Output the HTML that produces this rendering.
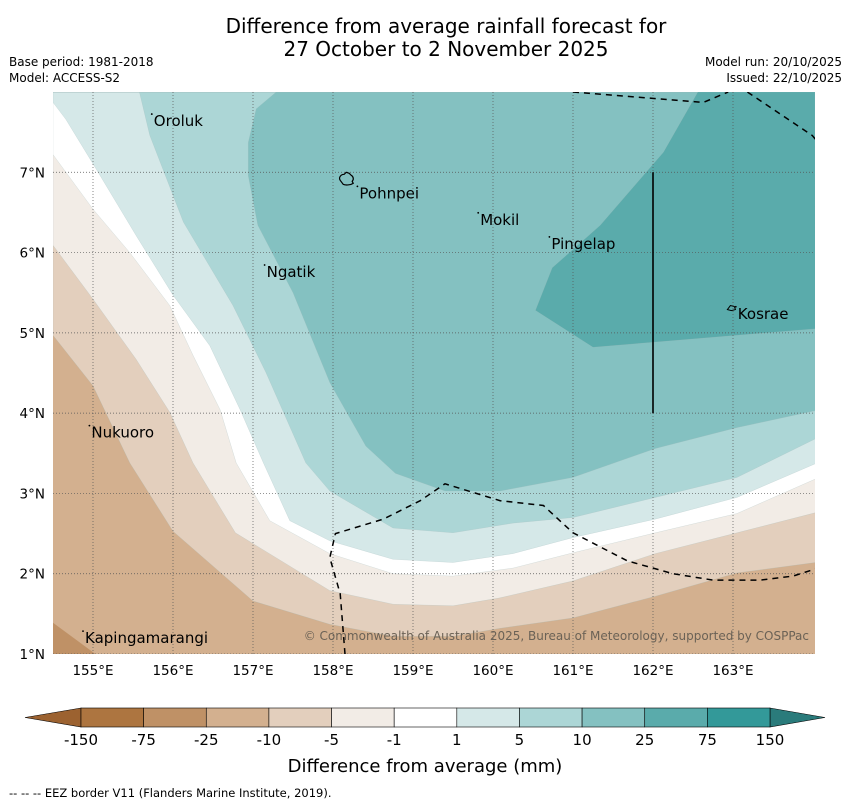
<!DOCTYPE html>
<html><head><meta charset="utf-8">
<style>
html,body{margin:0;padding:0;background:#fff;}
body{width:850px;height:804px;overflow:hidden;font-family:"Liberation Sans","DejaVu Sans",sans-serif;}
svg text{font-family:"DejaVu Sans","Liberation Sans",sans-serif;}
</style></head>
<body>
<svg id="chart" width="850" height="804" viewBox="0 0 850 804" xmlns="http://www.w3.org/2000/svg">
<text x="446" y="33" text-anchor="middle" font-size="20" fill="#000">Difference from average rainfall forecast for</text>
<text x="446" y="56" text-anchor="middle" font-size="20" fill="#000">27 October to 2 November 2025</text>
<text x="9" y="66" font-size="12">Base period: 1981-2018</text>
<text x="9" y="82" font-size="12">Model: ACCESS-S2</text>
<text x="842" y="66" font-size="12" text-anchor="end">Model run: 20/10/2025</text>
<text x="842" y="82" font-size="12" text-anchor="end">Issued: 22/10/2025</text>
<defs><clipPath id="mapclip"><rect x="53" y="92" width="762" height="562"/></clipPath></defs>
<g id="map" clip-path="url(#mapclip)"></g>
<g id="axes"></g>
<g id="cbar"></g>
<text x="425" y="772" text-anchor="middle" font-size="18">Difference from average (mm)</text>
<text x="9" y="797" font-size="11.5">--  --  -- EEZ border V11 (Flanders Marine Institute, 2019).</text>
</svg>
<script>
// ---- data ----
const lonTicks = [155,156,157,158,159,160,161,162,163];
const latTicks = [1,2,3,4,5,6,7];
const cbarLevels = ["-150","-75","-25","-10","-5","-1","1","5","10","25","75","150"];
const cbarColors = ["#ad7540","#bf9166","#d3b08f","#e3cfbd","#f2ece6","#ffffff","#d5e8e8","#acd6d6","#84c1c1","#5aabab","#339999"];
const contourM10Lon = [154.5,155.0,155.46,156.0,157.0,157.96,158.75,159.5,160.09,161.0,162.03,163.05,164.03];
const contourM10Lat = [4.97,4.34,3.38,2.53,1.66,1.37,1.22,1.22,1.32,1.45,1.72,2.01,2.14];
const contourM5Lon = [154.5,155.0,155.54,155.96,156.25,156.78,157.96,158.75,159.5,160.09,161.0,162.03,163.05,164.03];
const contourM5Lat = [6.09,5.42,4.67,4.01,3.38,2.51,1.79,1.62,1.60,1.70,1.91,2.25,2.51,2.76];
const contourM1Lon = [154.5,155.0,155.46,155.96,156.25,156.59,156.79,157.21,157.96,158.75,159.5,160.25,161.0,162.03,163.05,164.03];
const contourM1Lat = [7.22,6.54,6.00,5.34,4.72,4.04,3.38,2.66,2.25,2.00,1.97,2.07,2.26,2.51,2.75,3.18];
const contourP1Lon = [154.5,154.66,155.04,155.54,156.0,156.46,156.84,157.13,157.46,157.96,158.75,159.5,160.25,161.0,162.03,163.05,164.03];
const contourP1Lat = [7.87,7.66,7.04,6.21,5.47,4.84,4.04,3.38,2.66,2.41,2.18,2.14,2.25,2.45,2.68,2.95,3.37];
const contourP5Lon = [155.58,155.71,156.13,156.75,157.16,157.66,157.96,158.75,159.5,160.25,161.0,162.03,163.05,164.03];
const contourP5Lat = [8.0,7.46,6.38,5.34,4.51,3.38,3.03,2.57,2.51,2.63,2.70,2.95,3.20,3.68];
const contourP10Lon = [157.29,157.04,156.94,156.94,157.06,157.5,157.96,158.41,158.78,159.4,160.09,161.0,162.03,163.05,164.03];
const contourP10Lat = [8.0,7.79,7.37,6.96,6.34,5.50,4.38,3.59,3.25,3.03,3.03,3.20,3.56,3.82,4.03];
const contourP25Lon = [162.56,162.13,161.34,160.74,160.53,161.25,164.03];
const contourP25Lat = [8.0,7.25,6.34,5.81,5.28,4.82,5.05];
const patchM25Lon = [154.5,155.03,154.5];
const patchM25Lat = [1.39,1.0,1.0];
const eezALon = [158.15,158.09,157.96,158.03,158.13,158.63,159.09,159.4,160.09,160.63,161.0,161.68,162.25,162.75,163.34,163.75,164.03];
const eezALat = [1.0,1.75,2.20,2.50,2.53,2.68,2.91,3.12,2.91,2.85,2.51,2.16,2.0,1.92,1.92,1.97,2.06];
const eezBLon = [161.0,162.63,162.94];
const eezBLat = [8.0,7.87,8.0];
const eezCLon = [163.18,163.99,164.3];
const eezCLat = [8.0,7.46,7.1];
const boundaryLon = [162.0,162.0];
const boundaryLat = [7.0,4.0];
const placeNames = ["Oroluk","Pohnpei","Mokil","Pingelap","Ngatik","Kosrae","Nukuoro","Kapingamarangi"];
const placeLon = [155.76,158.33,159.84,160.73,157.17,163.06,154.98,154.9];
const placeLat = [7.7,6.8,6.47,6.17,5.82,5.3,3.82,1.26];

// ---- axes ----
const X0=53, X1=815, Y0=92, Y1=654;
const LON0=154.5, LON1=164.025, LAT0=1.0, LAT1=8.0;
const xs = lon => X0 + (lon-LON0)/(LON1-LON0)*(X1-X0);
const ys = lat => Y1 - (lat-LAT0)/(LAT1-LAT0)*(Y1-Y0);
const NS="http://www.w3.org/2000/svg";
function mk(tag, parent){const e=document.createElementNS(NS,tag);parent.appendChild(e);return e;}
function pts(lons,lats){return lons.map((l,i)=>xs(l).toFixed(1)+","+ys(lats[i]).toFixed(1)).join(" ");}

const map=document.getElementById('map');
const bg=mk('rect',map);
bg.setAttribute('x',X0);bg.setAttribute('y',Y0);bg.setAttribute('width',X1-X0);bg.setAttribute('height',Y1-Y0);bg.setAttribute('fill',cbarColors[2]);



const bands=[[contourM10Lon,contourM10Lat,cbarColors[3],'band-minus10-to-minus5'],
 [contourM5Lon,contourM5Lat,cbarColors[4],'band-minus5-to-minus1'],
 [contourM1Lon,contourM1Lat,cbarColors[5],'band-minus1-to-1'],
 [contourP1Lon,contourP1Lat,cbarColors[6],'band-1-to-5'],
 [contourP5Lon,contourP5Lat,cbarColors[7],'band-5-to-10'],
 [contourP10Lon,contourP10Lat,cbarColors[8],'band-10-to-25'],
 [contourP25Lon,contourP25Lat,cbarColors[9],'band-25-to-75']];
bands.forEach(b=>{
  const lons=b[0].concat([LON1,LON0]), lats=b[1].concat([LAT1,LAT1]);
  const p=mk('polygon',map);
  p.setAttribute('points',pts(lons,lats));
  p.setAttribute('fill',b[2]);p.setAttribute('stroke','#9fb8b8');p.setAttribute('stroke-width','0.4');p.setAttribute('stroke-opacity','0.5');
  
  
});
const pm=mk('polygon',map);
pm.setAttribute('points',pts(patchM25Lon,patchM25Lat));pm.setAttribute('fill',cbarColors[1]);



// grid
lonTicks.forEach(l=>{const g=mk('line',map);g.setAttribute('x1',xs(l));g.setAttribute('x2',xs(l));g.setAttribute('y1',Y0);g.setAttribute('y2',Y1);
 g.setAttribute('stroke','#555');g.setAttribute('stroke-width','0.7');g.setAttribute('stroke-dasharray','1 2');
 
 });
latTicks.forEach(l=>{const g=mk('line',map);g.setAttribute('y1',ys(l));g.setAttribute('y2',ys(l));g.setAttribute('x1',X0);g.setAttribute('x2',X1);
 g.setAttribute('stroke','#555');g.setAttribute('stroke-width','0.7');g.setAttribute('stroke-dasharray','1 2');
 
 });

// EEZ
[[eezALon,eezALat],[eezBLon,eezBLat],[eezCLon,eezCLat]].forEach(e=>{
 const l=mk('polyline',map);l.setAttribute('points',pts(e[0],e[1]));l.setAttribute('fill','none');l.setAttribute('stroke','#000');
 l.setAttribute('stroke-width','1.5');l.setAttribute('stroke-dasharray','6 5');
 
 });
const bl=mk('polyline',map);bl.setAttribute('points',pts(boundaryLon,boundaryLat));bl.setAttribute('stroke','#000');bl.setAttribute('stroke-width','1.6');bl.setAttribute('fill','none');



// island outlines
const pohn=mk('path',map);
pohn.setAttribute('d','M'+(xs(158.09))+' '+(ys(6.9))+' c-2 -3 1 -6 4 -6 l2 -2 l3 1 l2 2 c2 1 3 4 1 6 l1 2 c-3 2 -8 2 -10 1 z');
pohn.setAttribute('fill','none');pohn.setAttribute('stroke','#000');pohn.setAttribute('stroke-width','1.2');


const kos=mk('path',map);
kos.setAttribute('d','M'+(xs(162.93))+' '+(ys(5.29))+' l3 -4 l4 1 l1 3 l-4 1 z');
kos.setAttribute('fill','none');kos.setAttribute('stroke','#000');kos.setAttribute('stroke-width','1');



// place labels
placeNames.forEach((n,i)=>{
 const d=mk('circle',map);d.setAttribute('cx',xs(placeLon[i])-2);d.setAttribute('cy',ys(placeLat[i])-2);d.setAttribute('r','0.9');d.setAttribute('fill','#000');
 
 
 const t=mk('text',map);t.setAttribute('x',xs(placeLon[i]));t.setAttribute('y',ys(placeLat[i])+10);t.setAttribute('font-size','15');t.textContent=n;
 
 
});
const cp=mk('text',map);cp.setAttribute('x',809);cp.setAttribute('y',640);cp.setAttribute('text-anchor','end');cp.setAttribute('font-size','12');cp.setAttribute('fill','#6b6256');
cp.textContent='© Commonwealth of Australia 2025, Bureau of Meteorology, supported by COSPPac';



// axis labels
const axes=document.getElementById('axes');
lonTicks.forEach(l=>{const t=mk('text',axes);t.setAttribute('x',xs(l));t.setAttribute('y',675);t.setAttribute('text-anchor','middle');t.setAttribute('font-size','13.5');
 t.textContent=l+'°E';
 
 });
latTicks.forEach(l=>{const t=mk('text',axes);t.setAttribute('x',45);t.setAttribute('y',ys(l)+5);t.setAttribute('text-anchor','end');t.setAttribute('font-size','13.5');
 t.textContent=l+'°N';
 
 });

// colorbar
const cb=document.getElementById('cbar');
const CB0=81, CB1=770, CBY=708, CBH=19, w=(CB1-CB0)/cbarColors.length;
const lt=mk('polygon',cb);lt.setAttribute('points',`${CB0},${CBY} 25,${CBY+CBH/2} ${CB0},${CBY+CBH}`);lt.setAttribute('fill','#9c6230');lt.setAttribute('stroke','#000');lt.setAttribute('stroke-width','0.6');


const rt=mk('polygon',cb);rt.setAttribute('points',`${CB1},${CBY} 825,${CBY+CBH/2} ${CB1},${CBY+CBH}`);rt.setAttribute('fill','#2a7b7b');rt.setAttribute('stroke','#000');rt.setAttribute('stroke-width','0.6');


cbarColors.forEach((c,i)=>{const r=mk('rect',cb);r.setAttribute('x',CB0+i*w);r.setAttribute('y',CBY);r.setAttribute('width',w);r.setAttribute('height',CBH);
 r.setAttribute('fill',c);r.setAttribute('stroke','#000');r.setAttribute('stroke-width','0.6');
 
 });
cbarLevels.forEach((v,i)=>{const t=mk('text',cb);t.setAttribute('x',CB0+i*w);t.setAttribute('y',745);t.setAttribute('text-anchor','middle');t.setAttribute('font-size','15');
 t.textContent=v;
 
 });
</script>
</body></html>
